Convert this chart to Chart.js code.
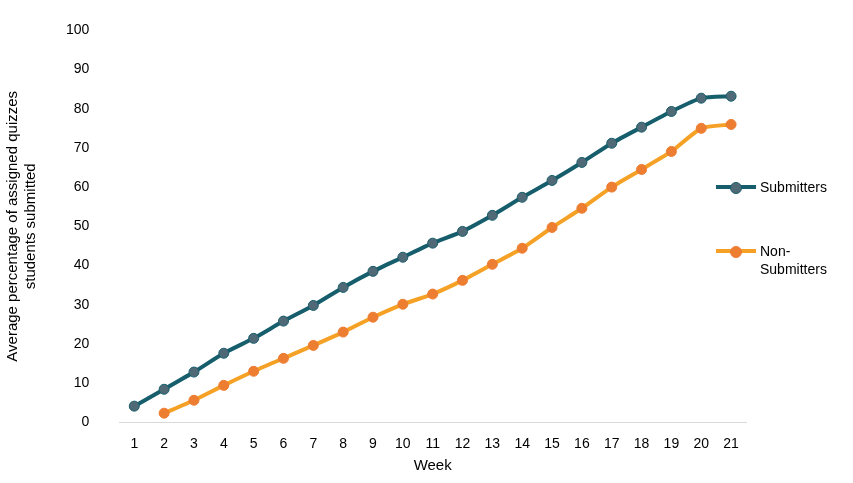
<!DOCTYPE html>
<html><head><meta charset="utf-8">
<script src="https://cdn.jsdelivr.net/npm/chart.js@4/dist/chart.umd.min.js"></script>
<style>
body{margin:0;background:#fff;font-family:"Liberation Sans",Arial,sans-serif;}
#wrap{position:absolute;left:0;top:0;width:760px;height:483px;}
.lg{position:absolute;font-size:14px;color:#000;line-height:18px;}
.sw{position:absolute;left:0;width:40px;height:4px;}
.dot{position:absolute;left:14px;width:10px;height:10px;border-radius:50%;}
</style></head><body>
<div id="wrap"><canvas id="c" width="760" height="483" style="width:760px;height:483px"></canvas></div>
<div class="lg" style="left:716px;top:178px;width:140px;height:20px;">
 <div class="sw" style="top:7px;background:#175e6c"></div><div class="dot" style="top:4px;background:#4f6a76;border:1px solid #175e6c"></div>
 <span style="position:absolute;left:44px;top:0">Submitters</span></div>
<div class="lg" style="left:716px;top:242px;width:140px;height:40px;">
 <div class="sw" style="top:7px;background:#f5a126"></div><div class="dot" style="top:4px;background:#ed7d31;border:1px solid #ed7d31"></div>
 <span style="position:absolute;left:44px;top:0">Non-<br>Submitters</span></div>
<script>
const weeks=["1","2","3","4","5","6","7","8","9","10","11","12","13","14","15","16","17","18","19","20","21"];
const submitters=[4.1,8.4,12.8,17.6,21.4,25.8,29.8,34.4,38.5,42.1,45.7,48.7,52.8,57.4,61.7,66.3,71.2,75.3,79.3,82.7,83.2];
const nonSubmitters=[null,2.3,5.6,9.4,13,16.3,19.6,23,26.8,30.1,32.7,36.2,40.3,44.4,49.7,54.6,60,64.5,69.1,75,76];
new Chart(document.getElementById('c'),{type:'line',
data:{labels:weeks,datasets:[
{label:'Submitters',data:submitters,borderColor:'#175e6c',backgroundColor:'#4f6a76',pointBorderColor:'#175e6c',borderWidth:4,pointRadius:5,pointBorderWidth:1,tension:0.2},
{label:'Non-Submitters',data:nonSubmitters,borderColor:'#f5a126',backgroundColor:'#ed7d31',pointBorderColor:'#ed7d31',borderWidth:4,pointRadius:5,pointBorderWidth:1,tension:0.2}]},
options:{responsive:false,animation:false,maintainAspectRatio:false,devicePixelRatio:1,
layout:{padding:{top:25,right:14,left:0,bottom:4}},
plugins:{legend:{display:false},tooltip:{enabled:false}},
scales:{
x:{offset:true,grid:{display:false},border:{color:'#d9d9d9'},ticks:{color:'#000',font:{size:14},padding:6},
 title:{display:true,text:'Week',color:'#000',font:{size:15},padding:{top:-2}}},
y:{min:0,max:100,ticks:{stepSize:10,color:'#000',font:{size:14},padding:22},grid:{display:false},border:{display:false},
 title:{display:true,text:['Average percentage of assigned quizzes','students submitted'],color:'#000',font:{size:15},padding:{bottom:4}}}}}});
</script>
</body></html>
